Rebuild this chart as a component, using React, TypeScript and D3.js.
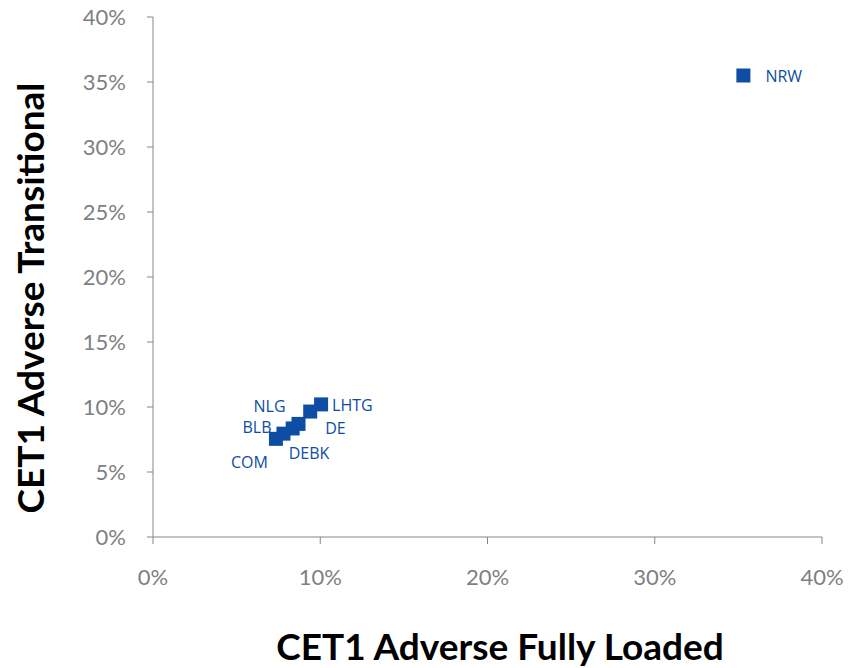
import React from "react";
import * as d3 from "d3";

const banks = ["COM", "BLB", "DEBK", "NLG", "DE", "LHTG", "NRW"];
const fullyLoaded = [0.0735, 0.078, 0.0835, 0.087, 0.094, 0.1005, 0.353];
const transitional = [0.0755, 0.0795, 0.0835, 0.087, 0.0965, 0.102, 0.355];
const xTicks = [0, 0.1, 0.2, 0.3, 0.4];
const yTicks = [0, 0.05, 0.1, 0.15, 0.2, 0.25, 0.3, 0.35, 0.4];
// label offsets (styling)
const labelDx = [-45, -41, -4, -45, 15, 11, 22];
const labelDy = [29, -1, 31, -12, 22, 7, 6];

export default function App() {
  const W = 850, H = 668;
  const x = d3.scaleLinear().domain([0, 0.4]).range([153, 822]);
  const y = d3.scaleLinear().domain([0, 0.4]).range([537, 17]);
  const fmt = d3.format(".0%");
  const blue = "#0E4DA4";
  const grey = "#868686";
  const font = "Lato, 'Open Sans', sans-serif";
  const ms = 14;
  return (
    <svg width={W} height={H} style={{ position: "absolute", left: 0, top: 0 }} fontFamily={font}>
      <rect width={W} height={H} fill="#fff" />
      <line x1={x(0)} x2={x(0)} y1={y(0.4)} y2={y(0)} stroke={grey} strokeWidth={1} />
      <line x1={x(0)} x2={x(0.4)} y1={y(0)} y2={y(0)} stroke={grey} strokeWidth={1} />
      {yTicks.map((t) => (
        <g key={"y" + t}>
          <line x1={x(0) - 6} x2={x(0)} y1={y(t)} y2={y(t)} stroke={grey} />
          <text x={126} y={y(t)} dy="0.35em" textAnchor="end" fontSize={22} fill="#7F7F7F">{fmt(t)}</text>
        </g>
      ))}
      {xTicks.map((t) => (
        <g key={"x" + t}>
          <line x1={x(t)} x2={x(t)} y1={y(0)} y2={y(0) + 7} stroke={grey} />
          <text x={x(t)} y={585} textAnchor="middle" fontSize={22} fill="#7F7F7F">{fmt(t)}</text>
        </g>
      ))}
      {banks.map((b, i) => (
        <rect key={b} x={x(fullyLoaded[i]) - ms / 2} y={y(transitional[i]) - ms / 2} width={ms} height={ms} fill={blue} />
      ))}
      {banks.map((b, i) => (
        <text key={"l" + b} x={x(fullyLoaded[i]) + labelDx[i]} y={y(transitional[i]) + labelDy[i]} fontSize={16} fill={blue} fontFamily="'Open Sans', sans-serif">{b}</text>
      ))}
      <text x={500} y={660} textAnchor="middle" fontSize={37} fontWeight="bold" fill="#000">CET1 Adverse Fully Loaded</text>
      <text transform={`translate(44,298) rotate(-90)`} textAnchor="middle" fontSize={37} fontWeight="bold" fill="#000">CET1 Adverse Transitional</text>
    </svg>
  );
}
